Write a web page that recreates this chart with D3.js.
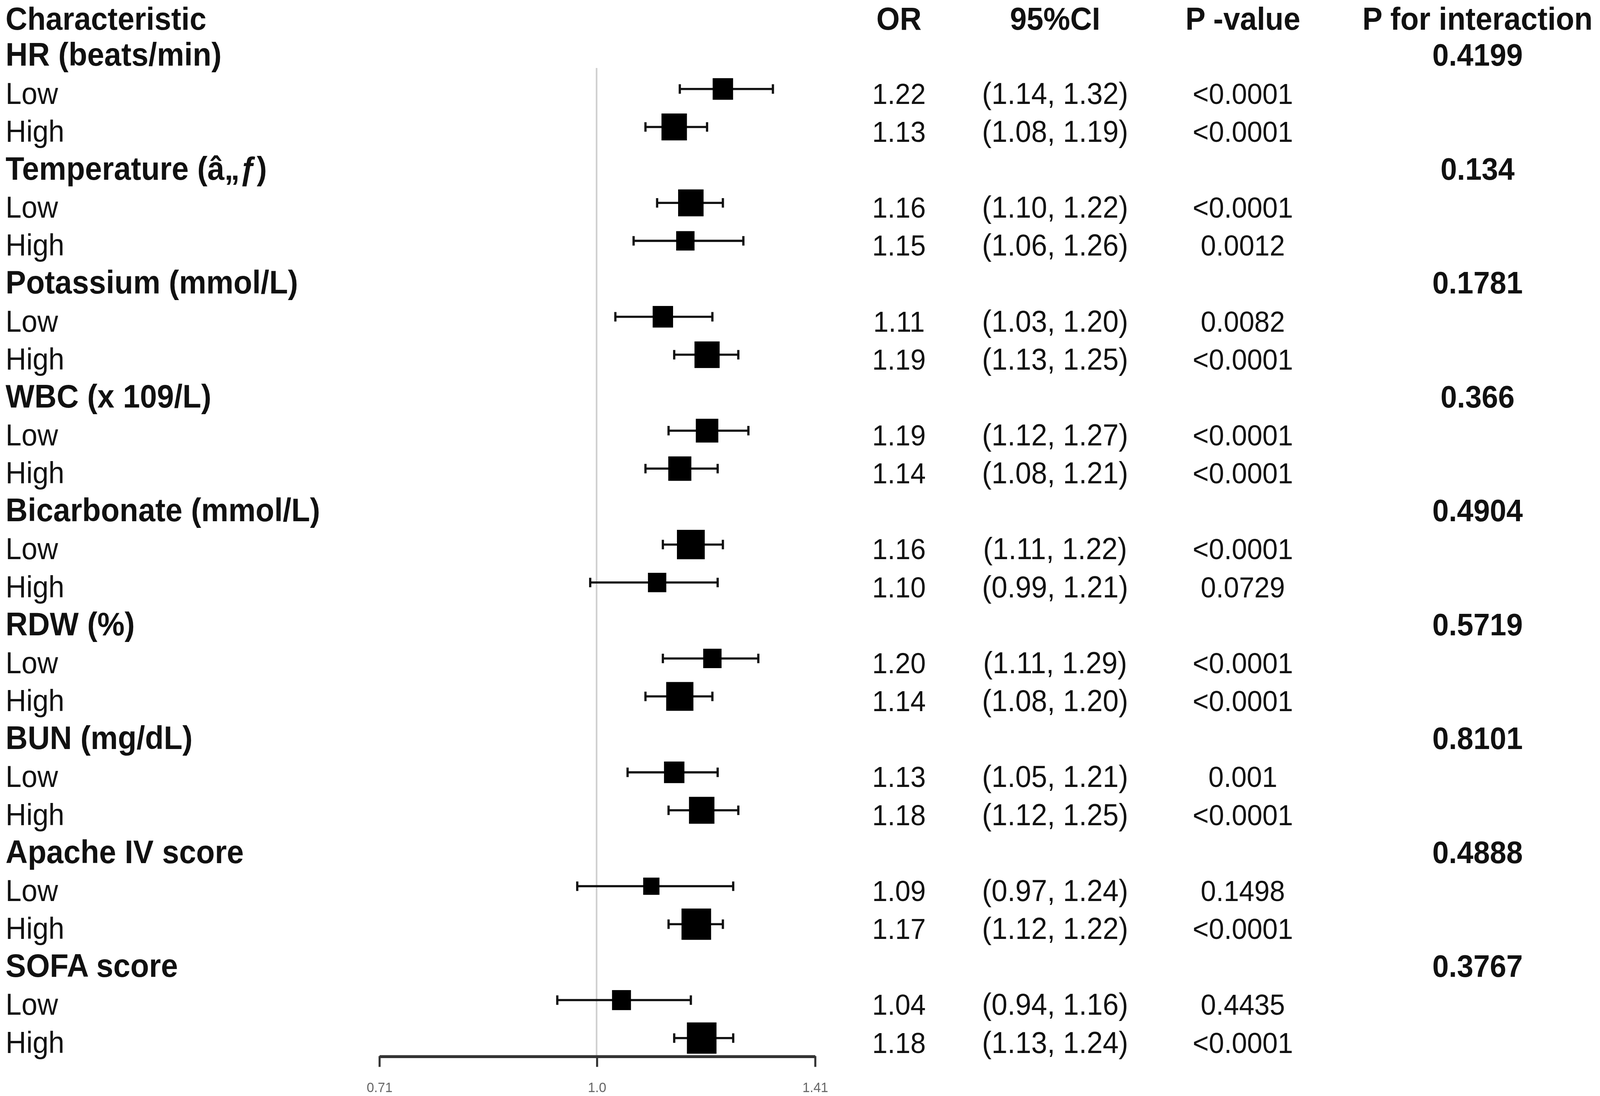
<!DOCTYPE html>
<html>
<head>
<meta charset="utf-8" />
<script src="https://cdn.jsdelivr.net/npm/d3@7"></script>
<style>
html, body {
  margin: 0;
  padding: 0;
  background: #fff;
  overflow: hidden;
}
#chart svg {
  display: block;
  position: fixed;
  left: 0;
  top: 0;
  width: 100vw;
  height: 100vh;
}
#chart text {
  font-family: "Liberation Sans", Arial, sans-serif;
  fill: #111;
}
#chart .bold {
  font-weight: bold;
}
#chart .axis .domain {
  stroke: #333;
  stroke-width: 2.7;
}
#chart .axis .tick line {
  stroke: #333;
  stroke-width: 2;
}
#chart .axis .tick text {
  font-size: 13px;
  fill: #666;
}
</style>
</head>
<body>
<div id="chart"></div>
<script>
// subgroup headers and their interaction p-values
var groups = ["HR (beats/min)", "Temperature (â„ƒ)", "Potassium (mmol/L)", "WBC (x 109/L)",
  "Bicarbonate (mmol/L)", "RDW (%)", "BUN (mg/dL)", "Apache IV score", "SOFA score"];
var pInteraction = ["0.4199", "0.134", "0.1781", "0.366", "0.4904", "0.5719", "0.8101", "0.4888", "0.3767"];
var levels = ["Low", "High"];

// one entry per subgroup level, in order (Low, High) for each group
var oddsRatio = [1.22, 1.13, 1.16, 1.15, 1.11, 1.19, 1.19, 1.14, 1.16, 1.10, 1.20, 1.14, 1.13, 1.18, 1.09, 1.17, 1.04, 1.18];
var ciLower = [1.14, 1.08, 1.10, 1.06, 1.03, 1.13, 1.12, 1.08, 1.11, 0.99, 1.11, 1.08, 1.05, 1.12, 0.97, 1.12, 0.94, 1.13];
var ciUpper = [1.32, 1.19, 1.22, 1.26, 1.20, 1.25, 1.27, 1.21, 1.22, 1.21, 1.29, 1.20, 1.21, 1.25, 1.24, 1.22, 1.16, 1.24];
var pValues = ["<0.0001", "<0.0001", "<0.0001", "0.0012", "0.0082", "<0.0001", "<0.0001", "<0.0001", "<0.0001",
  "0.0729", "<0.0001", "<0.0001", "0.001", "<0.0001", "0.1498", "<0.0001", "0.4435", "<0.0001"];
// relative box weight
var weights = [0.69, 0.86, 0.86, 0.62, 0.69, 0.85, 0.76, 0.78, 0.94, 0.62, 0.62, 0.92, 0.69, 0.86, 0.55, 1.0, 0.64, 1.0];

var headers = ["Characteristic", "OR", "95%CI", "P -value", "P for interaction"];
var tickValues = [0.71, 1.0, 1.41];
var tickLabels = ["0.71", "1.0", "1.41"];

// layout (drawn in a 1568 x 1016 frame, stretched to the window)
var W = 1568, H = 1016;
var colX = { label: 5.5, or: 881, ci: 1034, p: 1218, pint: 1448 };
var nRows = 1 + groups.length * 3;

var svg = d3.select('#chart').append('svg')
  .attr('viewBox', '0 0 ' + W + ' ' + H)
  .attr('preserveAspectRatio', 'none');

var x = d3.scaleLog().domain([0.71, 1.41]).range([371.5, 798.5]);
var rowY = d3.scaleLinear().domain([0, nRows - 1]).range([25.8, 976]); // text baselines
var boxSize = d3.scaleLinear().domain([0, 1]).range([0, 29]);
var axisY = 979;

// build the table rows
var rows = [];
groups.forEach(function(g, gi) {
  rows.push({ type: 'group', label: g, pint: pInteraction[gi] });
  levels.forEach(function(l, li) {
    var k = gi * 2 + li;
    rows.push({ type: 'level', label: l, or: oddsRatio[k], lo: ciLower[k], hi: ciUpper[k], p: pValues[k], w: weights[k] });
  });
});
rows.forEach(function(r, i) { r.y = rowY(i + 1); });

// header (kept a touch lower so the glyphs are not clipped by the top edge)
var hdr = svg.append('g').attr('class', 'header');
hdr.selectAll('text').data(headers).enter().append('text')
  .attr('class', 'bold')
  .attr('x', function(d, i) { return [colX.label, colX.or, colX.ci, colX.p, colX.pint][i]; })
  .attr('y', rowY(0) + 1.8)
  .attr('text-anchor', function(d, i) { return i === 0 ? 'start' : 'middle'; })
  .style('font-size', '29.5px')
  .text(function(d) { return d; });

// reference line at OR = 1
svg.append('line')
  .attr('x1', x(1)).attr('x2', x(1))
  .attr('y1', 63).attr('y2', axisY)
  .style('stroke', '#cfcfcf')
  .style('stroke-width', 1.6);

// left labels
svg.append('g').selectAll('text').data(rows).enter().append('text')
  .attr('class', function(d) { return d.type === 'group' ? 'bold' : null; })
  .attr('x', colX.label)
  .attr('y', function(d) { return d.y; })
  .style('font-size', function(d) { return d.type === 'group' ? '30px' : '28px'; })
  .text(function(d) { return d.label; });

var groupRows = rows.filter(function(d) { return d.type === 'group'; });
var levelRows = rows.filter(function(d) { return d.type === 'level'; });

// interaction p values
svg.append('g').selectAll('text').data(groupRows).enter().append('text')
  .attr('class', 'bold')
  .attr('x', colX.pint)
  .attr('y', function(d) { return d.y; })
  .attr('text-anchor', 'middle')
  .style('font-size', '29px')
  .text(function(d) { return d.pint; });

// numeric columns
var numCols = [
  { x: colX.or, size: 27, f: function(d) { return d.or.toFixed(2); } },
  { x: colX.ci, size: 28, f: function(d) { return '(' + d.lo.toFixed(2) + ', ' + d.hi.toFixed(2) + ')'; } },
  { x: colX.p, size: 27, f: function(d) { return d.p; } }
];
numCols.forEach(function(c) {
  svg.append('g').selectAll('text').data(levelRows).enter().append('text')
    .attr('x', c.x)
    .attr('y', function(d) { return d.y; })
    .attr('text-anchor', 'middle')
    .style('font-size', c.size + 'px')
    .text(c.f);
});

// confidence intervals and boxes
var marks = svg.append('g').selectAll('g').data(levelRows).enter().append('g')
  .attr('transform', function(d) { return 'translate(0,' + (d.y - 13.7) + ')'; });

marks.append('line')
  .attr('x1', function(d) { return x(d.lo); })
  .attr('x2', function(d) { return x(d.hi); })
  .style('stroke', '#111')
  .style('stroke-width', 2);

[function(d) { return x(d.lo); }, function(d) { return x(d.hi); }].forEach(function(fx) {
  marks.append('line')
    .attr('x1', fx).attr('x2', fx)
    .attr('y1', -4.4).attr('y2', 4.4)
    .style('stroke', '#111')
    .style('stroke-width', 2.2);
});

marks.append('rect')
  .attr('x', function(d) { return x(d.or) - boxSize(d.w) / 2; })
  .attr('y', function(d) { return -boxSize(d.w) / 2; })
  .attr('width', function(d) { return boxSize(d.w); })
  .attr('height', function(d) { return boxSize(d.w); })
  .style('fill', '#000');

// x axis
svg.append('g')
  .attr('class', 'axis')
  .attr('transform', 'translate(0,' + axisY + ')')
  .call(d3.axisBottom(x)
    .tickValues(tickValues)
    .tickFormat(function(d, i) { return tickLabels[i]; })
    .tickSize(10)
    .tickSizeOuter(0)
    .tickPadding(14));
</script>
</body>
</html>
